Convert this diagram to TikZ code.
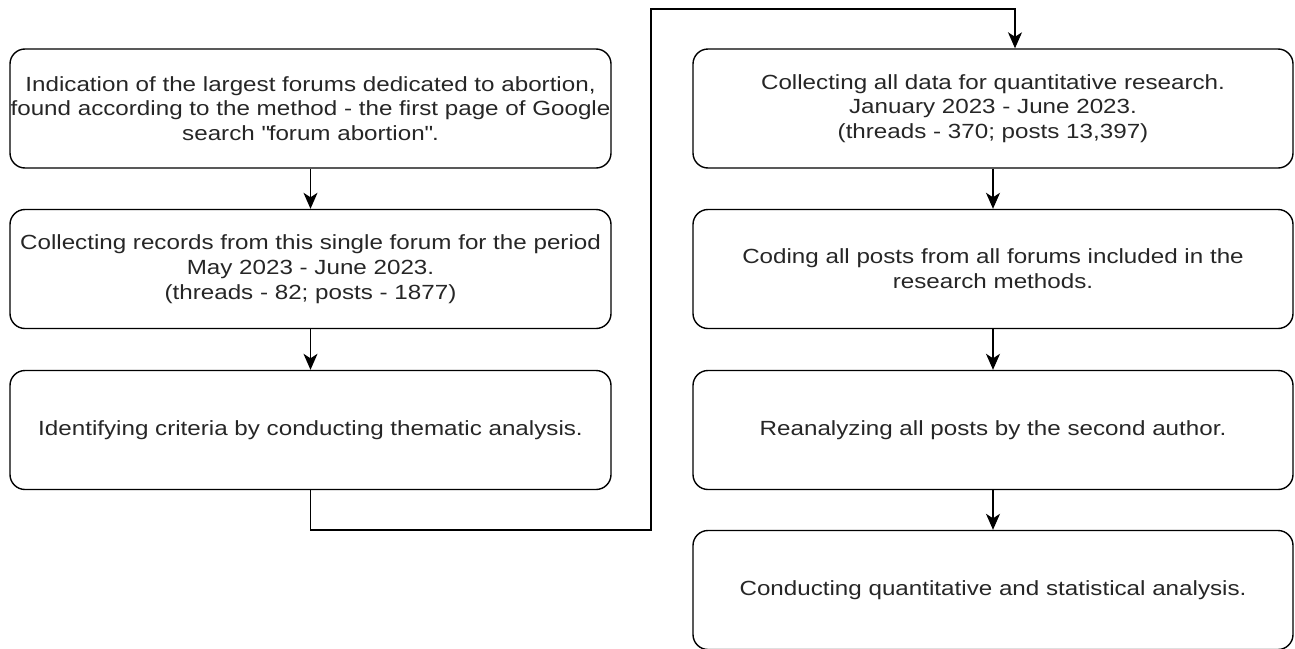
\documentclass[tikz,border=0pt]{standalone}
\usepackage{fontspec}
\setmainfont{Liberation Sans}[FakeStretch=1.18]
\usetikzlibrary{arrows.meta}

\tikzset{
  stepbox/.style={draw=black, line width=1.4pt, rounded corners=15pt,
    align=center, inner sep=0pt, font=\fontsize{20.5}{24.7}\selectfont,
    text=black!85},
  leftbox/.style={stepbox, minimum width=601pt, minimum height=119pt},
  rightbox/.style={stepbox, minimum width=600pt, minimum height=119pt},
  flow/.style={draw=black, line width=1.4pt,
    -{Stealth[length=16pt, width=14pt, inset=4.5pt]}}
}

\begin{document}
\begin{tikzpicture}[x=1pt, y=-1pt]
  \useasboundingbox (0,0) rectangle (1295,648);
  \clip (0,0) rectangle (1295,648);

  % left column
  \node[leftbox] (b1) at (310.5,108.5) {Indication of the largest forums dedicated to abortion,\\found according to the method - the first page of Google\\search \textquotedbl forum abortion\textquotedbl .};
  \node[leftbox] (b2) at (310.5,269) {Collecting records from this single forum for the period\\May 2023 - June 2023.\\(threads - 82; posts - 1877)};
  \node[leftbox] (b3) at (310.5,430) {Identifying criteria by conducting thematic analysis.};

  % right column
  \node[rightbox] (b4) at (993,108.5) {Collecting all data for quantitative research.\\January 2023 - June 2023.\\(threads - 370; posts 13,397)};
  \node[rightbox] (b5) at (993,269) {Coding all posts from all forums included in the\\research methods.};
  \node[rightbox] (b6) at (993,430) {Reanalyzing all posts by the second author.};
  \node[rightbox] (b7) at (993,590) {Conducting quantitative and statistical analysis.};

  % routing points of the link between the columns
  \coordinate (lo) at (651,530);
  \coordinate (hi) at (1015,9);

  \draw[flow] (b1) -- (b2);
  \draw[flow] (b2) -- (b3);
  \draw[flow] (b3.south) |- (lo) |- (hi) -- (hi |- b4.north);
  \draw[flow] (b4) -- (b5);
  \draw[flow] (b5) -- (b6);
  \draw[flow] (b6) -- (b7);
\end{tikzpicture}
\end{document}
